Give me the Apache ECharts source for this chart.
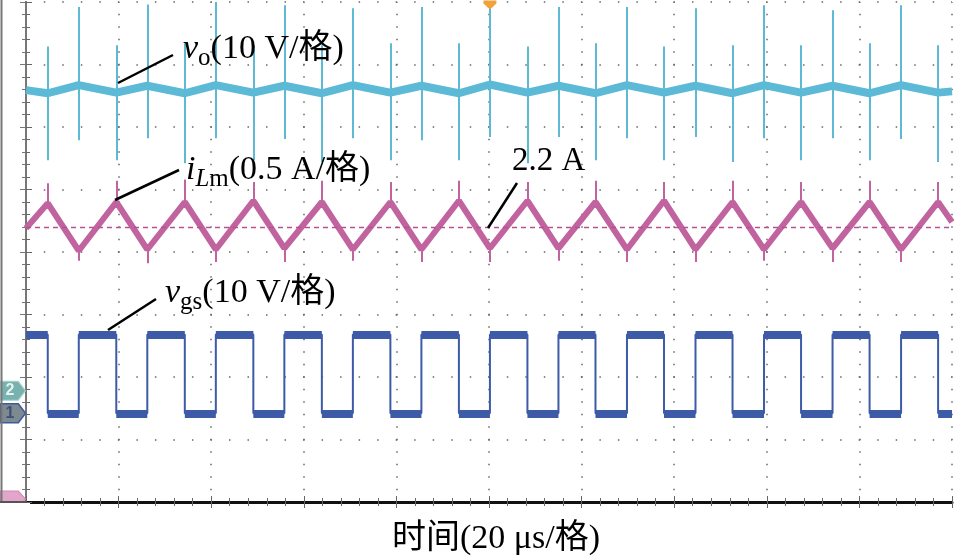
<!DOCTYPE html>
<html><head><meta charset="utf-8">
<script src="https://cdn.jsdelivr.net/npm/echarts@6/dist/echarts.min.js"></script>
<style>html,body{margin:0;padding:0;background:#fff}#c{width:955px;height:559px}</style>
</head><body><div id="c"></div>
<script>
// ---- time axis (µs), 20 µs/div, 10 div ----
const timeMinUs = 0, timeMaxUs = 200, timeDivUs = 20;
const gridDivs = 8;

// ---- vgs switching edges (µs) ----
const vgsFallUs = [4.7, 19.5, 34.3, 49.1, 63.9, 78.7, 93.5, 108.3, 123.0, 137.8, 152.6, 167.4, 182.2, 197.0];
const vgsRiseUs = [11.4, 26.2, 41.0, 55.8, 70.6, 85.4, 100.2, 115.0, 129.8, 144.6, 159.4, 174.2, 189.0];
const vgsHighV = 12.6, vgsLowV = 0;

// ---- iLm (A) at vertices ----
const iLmStartA = 2.19, iLmEndA = 2.24;
const iLmAtFallA = [2.39, 2.40, 2.40, 2.41, 2.40, 2.40, 2.41, 2.41, 2.40, 2.41, 2.40, 2.40, 2.40, 2.40];
const iLmAtRiseA = [2.01, 2.02, 2.02, 2.03, 2.02, 2.02, 2.03, 2.03, 2.02, 2.02, 2.02, 2.03, 2.02];
const iLmPeakSpikeA = [2.55, 2.57, 2.58, 2.56, 2.57, 2.56, 2.57, 2.56, 2.57, 2.56, 2.57, 2.56, 2.57, 2.56];
const iLmValleySpikeA = [1.93, 1.91, 1.92, 1.92, 1.93, 1.92, 1.92, 1.93, 1.92, 1.92, 1.93, 1.92, 1.92];
const iLmRefA = 2.2;

// ---- vo (V) ----
const voStartV = 48.1, voEndV = 47.9;
const voAtFallV = [47.6, 47.7, 47.6, 47.7, 47.6, 47.7, 47.6, 47.7, 47.6, 47.7, 47.6, 47.7, 47.6, 47.7];
const voAtRiseV = [48.9, 48.8, 48.9, 48.8, 48.9, 48.8, 49.0, 48.8, 48.9, 48.8, 48.9, 48.8, 48.9];
const voRiseSpikeTopV = [61.4, 61.8, 62.2, 61.7, 61.2, 61.4, 62.2, 61.4, 61.4, 61.2, 61.7, 60.9, 61.7];
const voRiseSpikeBotV = [40.1, 40.4, 40.4, 40.3, 40.4, 40.1, 40.6, 40.6, 40.4, 40.6, 40.4, 40.4, 40.3];
const voFallSpikeTopV = [55.1, 55.3, 55.6, 55.3, 55.3, 55.6, 55.6, 55.1, 55.6, 55.1, 55.3, 55.3, 55.6, 55.3];
const voFallSpikeBotV = [36.9, 36.9, 36.4, 36.9, 36.6, 36.9, 36.9, 36.4, 36.9, 36.9, 36.6, 36.9, 36.9, 36.6];

// channel axis ranges (10 V/div, 0.5 A/div, 10 V/div; ground positions)
const voAxisMin = -17.8, voAxisMax = 62.2;
const iLmAxisMin = 0, iLmAxisMax = 4;
const vgsAxisMin = -14.2, vgsAxisMax = 65.8;

// ---------- build series data ----------
function vertexSeries(start, fallVals, riseVals, end) {
  const out = [[timeMinUs, start]];
  for (let i = 0; i < vgsFallUs.length; i++) {
    out.push([vgsFallUs[i], fallVals[i]]);
    if (i < vgsRiseUs.length) out.push([vgsRiseUs[i], riseVals[i]]);
  }
  out.push([timeMaxUs, end]);
  return out;
}
const voData = vertexSeries(voStartV, voAtFallV, voAtRiseV, voEndV);
const iLmData = vertexSeries(iLmStartA, iLmAtFallA, iLmAtRiseA, iLmEndA);

const vgsData = [[timeMinUs, vgsHighV]];
for (let i = 0; i < vgsFallUs.length; i++) {
  vgsData.push([vgsFallUs[i], vgsHighV], [vgsFallUs[i], vgsLowV]);
  if (i < vgsRiseUs.length) vgsData.push([vgsRiseUs[i], vgsLowV], [vgsRiseUs[i], vgsHighV]);
}
vgsData.push([timeMaxUs, vgsLowV]);

const vgsPlateaus = [{coords: [[timeMinUs, vgsHighV], [vgsFallUs[0], vgsHighV]]}];
for (let i = 0; i < vgsFallUs.length; i++) {
  const endLow = i < vgsRiseUs.length ? vgsRiseUs[i] : timeMaxUs;
  vgsPlateaus.push({coords: [[vgsFallUs[i], vgsLowV], [endLow, vgsLowV]]});
  if (i < vgsRiseUs.length) {
    vgsPlateaus.push({coords: [[vgsRiseUs[i], vgsHighV], [vgsFallUs[i + 1], vgsHighV]]});
  }
}

const voSpikes = [];
vgsRiseUs.forEach((t, i) => voSpikes.push({coords: [[t, voRiseSpikeTopV[i]], [t, voRiseSpikeBotV[i]]]}));
vgsFallUs.forEach((t, i) => voSpikes.push({coords: [[t, voFallSpikeTopV[i]], [t, voFallSpikeBotV[i]]]}));

const iLmSpikes = [];
vgsFallUs.forEach((t, i) => iLmSpikes.push({coords: [[t, iLmAtFallA[i]], [t, iLmPeakSpikeA[i]]]}));
vgsRiseUs.forEach((t, i) => iLmSpikes.push({coords: [[t, iLmAtRiseA[i]], [t, iLmValleySpikeA[i]]]}));

// ---------- styles ----------
const C_VO = '#5cbad6', C_IL = '#c1639e', C_VGS = '#3d5ba7';
const FONT = '"Liberation Serif", "Noto Sans CJK SC", serif';
const pent = 'path://M0,0 L17,0 L24,8 L17,16 L0,16 Z';

const gridAxisCommon = {
  type: 'value', min: timeMinUs, max: timeMaxUs, interval: timeDivUs,
  axisLabel: {show: false},
  axisTick: {show: true, inside: true, length: 6, lineStyle: {color: '#666', width: 1}},
  minorTick: {show: true, splitNumber: 5, length: 4, lineStyle: {color: '#666', width: 1}}
};

const chart = echarts.init(document.getElementById('c'));
chart.setOption({
  animation: false,
  backgroundColor: '#fff',
  grid: {left: 26, right: 3, top: 2, bottom: 57},
  xAxis: [
    Object.assign({}, gridAxisCommon, {
      position: 'bottom',
      axisLine: {show: true, lineStyle: {color: '#555', width: 2}},
      splitLine: {show: true, lineStyle: {color: '#666', width: 1.5, type: [1.5, 11], dashOffset: 0.75}}
    }),
    Object.assign({}, gridAxisCommon, {
      position: 'top',
      axisLine: {show: true, lineStyle: {color: '#111', width: 3}},
      splitLine: {show: false}
    })
  ],
  yAxis: [
    {type: 'value', min: 0, max: gridDivs, interval: 1, position: 'left',
     axisLabel: {show: false},
     axisLine: {show: true, lineStyle: {color: '#666', width: 2}},
     axisTick: {show: true, inside: true, length: 6, lineStyle: {color: '#666'}},
     minorTick: {show: true, splitNumber: 5, length: 4, lineStyle: {color: '#666'}},
     splitLine: {show: true, lineStyle: {color: '#666', width: 1.5, type: [1.5, 17.02], dashOffset: 0.75}}},
    {type: 'value', min: 0, max: gridDivs, interval: 1, position: 'right',
     axisLabel: {show: false},
     axisLine: {show: true, lineStyle: {color: '#777', width: 2}},
     axisTick: {show: true, inside: true, length: 6, lineStyle: {color: '#777'}},
     minorTick: {show: true, splitNumber: 5, length: 4, lineStyle: {color: '#777'}},
     splitLine: {show: false}},
    {type: 'value', show: false, min: voAxisMin, max: voAxisMax, splitLine: {show: false}},
    {type: 'value', show: false, min: iLmAxisMin, max: iLmAxisMax, splitLine: {show: false}},
    {type: 'value', show: false, min: vgsAxisMin, max: vgsAxisMax, splitLine: {show: false}}
  ],
  series: [
    {type: 'line', name: 'vgs', xAxisIndex: 0, yAxisIndex: 4, data: vgsData, showSymbol: false,
     lineStyle: {color: C_VGS, width: 2}, z: 2,
     markPoint: {silent: true, data: [
       {coord: [timeMinUs, 0], symbol: pent, symbolSize: [25, 19], symbolOffset: [-13, 0],
        itemStyle: {color: '#7d8a90', borderColor: '#3e5a9c', borderWidth: 1.5},
        label: {show: true, formatter: '1', color: '#3e4f7a', fontSize: 16, fontWeight: 'bold', offset: [-3, 0]}}
     ]}},
    {type: 'lines', coordinateSystem: 'cartesian2d', xAxisIndex: 0, yAxisIndex: 4, data: vgsPlateaus,
     lineStyle: {color: C_VGS, width: 8, opacity: 1, cap: 'butt'}, z: 2, silent: true},
    {type: 'line', name: 'iLm', xAxisIndex: 0, yAxisIndex: 3, data: iLmData, showSymbol: false,
     lineStyle: {color: C_IL, width: 6}, z: 3,
     markLine: {silent: true, symbol: 'none', label: {show: false},
       lineStyle: {color: '#b8508f', width: 1.3, type: [5, 4]}, data: [{yAxis: iLmRefA}]},
     markPoint: {silent: true, data: [
       {coord: [timeMinUs, 0], symbol: pent, symbolSize: [25, 16], symbolOffset: [-13, -3],
        itemStyle: {color: '#e2a6cb', borderColor: '#d08ab8', borderWidth: 1},
        label: {show: false}}
     ]}},
    {type: 'lines', coordinateSystem: 'cartesian2d', xAxisIndex: 0, yAxisIndex: 3, data: iLmSpikes,
     lineStyle: {color: C_IL, width: 2, opacity: 1}, z: 3, silent: true},
    {type: 'line', name: 'vo', xAxisIndex: 0, yAxisIndex: 2, data: voData, showSymbol: false,
     lineStyle: {color: C_VO, width: 8}, z: 4,
     markPoint: {silent: true, data: [
       {coord: [timeMinUs, 0], symbol: pent, symbolSize: [25, 19], symbolOffset: [-13, 0],
        itemStyle: {color: '#78b2ae', borderColor: '#a9d3d0', borderWidth: 1},
        label: {show: true, formatter: '2', color: '#e6f3f2', fontSize: 16, fontWeight: 'bold', offset: [-3, 0]}},
       {coord: [vgsRiseUs[6], voAxisMax], symbol: 'path://M0,0 L12,0 L12,3 L6,9 L0,3 Z', symbolSize: [13, 9],
        symbolOffset: [0, 3], itemStyle: {color: '#f2a23a'}, label: {show: false}}
     ]}},
    {type: 'lines', coordinateSystem: 'cartesian2d', xAxisIndex: 0, yAxisIndex: 2, data: voSpikes,
     lineStyle: {color: C_VO, width: 2, opacity: 1}, z: 4, silent: true}
  ]
});

// ---------- annotations ----------
const meas = document.createElement('canvas').getContext('2d');
function w(text, size, italic) {
  meas.font = (italic ? 'italic ' : '') + size + 'px ' + FONT;
  return meas.measureText(text).width;
}
function label(x, baseline, parts) {
  const els = [];
  let cx = x;
  parts.forEach(p => {
    const size = p.s || 34;
    const yb = baseline + (p.dy || 0);
    els.push({type: 'text', z: 50, silent: true,
      style: {text: p.t, x: cx, y: yb - 0.34 * size, fill: '#000',
        font: (p.i ? 'italic ' : '') + size + 'px ' + FONT, align: 'left', verticalAlign: 'middle'}});
    cx += w(p.t, size, p.i);
  });
  return els;
}
function seg(x1, y1, x2, y2) {
  return {type: 'line', z: 50, silent: true, shape: {x1, y1, x2, y2}, style: {stroke: '#000', lineWidth: 2.5}};
}
const g = [].concat(
  label(183, 61, [{t: 'v', i: true}, {t: 'o', s: 25, dy: 6}, {t: '(10 V/格)'}]),
  label(186, 182, [{t: 'i', i: true}, {t: 'L', s: 25, dy: 6, i: true}, {t: 'm', s: 25, dy: 6}, {t: '(0.5 A/格)'}]),
  label(165, 305, [{t: 'v', i: true}, {t: 'gs', s: 25, dy: 6}, {t: '(10 V/格)'}]),
  label(512, 173, [{t: '2.2 A', s: 33}]),
  [seg(173, 55, 118, 83), seg(179, 170, 115, 200), seg(156, 299, 108, 330), seg(517, 183, 488, 228),
   {type: 'line', z: 40, silent: true, shape: {x1: 1.5, y1: 0, x2: 1.5, y2: 503}, style: {stroke: '#777', lineWidth: 2}},
   {type: 'line', z: 40, silent: true, shape: {x1: 0, y1: 502, x2: 27, y2: 502}, style: {stroke: '#555', lineWidth: 2}},
   {type: 'rect', z: 39, silent: true, shape: {x: 0, y: 503, width: 30, height: 14}, style: {fill: '#fff'}},
   {type: 'text', z: 50, silent: true, style: {text: '时间(20 μs/格)', x: 496, y: 539, fill: '#000',
     font: '34px ' + FONT, align: 'center', verticalAlign: 'middle'}}]
);
chart.setOption({graphic: g});
</script>
</body></html>
